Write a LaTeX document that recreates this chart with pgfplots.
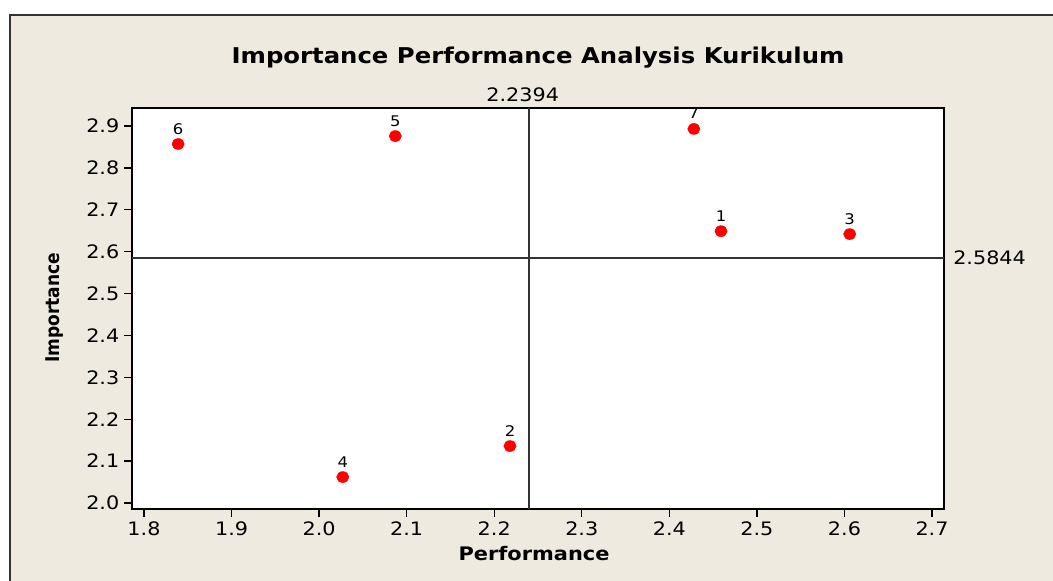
\documentclass[border=0pt]{standalone}
\usepackage{pgfplots}
\pgfplotsset{compat=1.18}
\usepackage{pgfplotstable}
\usepackage{fontspec}
\setmainfont{DejaVu Sans}[FakeStretch=1.12]
\newfontfamily\ylabfont{DejaVu Sans}[FakeStretch=0.9]
\definecolor{bgc}{RGB}{238,234,224}
\definecolor{frm}{RGB}{50,50,50}
\definecolor{dotred}{RGB}{255,0,0}

\pgfplotstableread{
x y lab
2.459 2.649 1
2.218 2.136 2
2.606 2.642 3
2.027 2.062 4
2.087 2.876 5
1.839 2.857 6
2.428 2.893 7
}\pts

\begin{document}
\begin{tikzpicture}
\useasboundingbox (0pt,0pt) rectangle (789.75pt,435.75pt);
\fill[white] (0pt,0pt) rectangle (789.75pt,435.75pt);
\fill[bgc] (7.5pt,0pt) rectangle (789.75pt,424.5pt);
\draw[frm, line width=1.3pt] (7.5pt,0pt) -- (7.5pt,424.5pt) -- (789.75pt,424.5pt);
\begin{axis}[
  at={(99pt,54pt)}, anchor=south west,
  scale only axis, width=609pt, height=300.75pt,
  xmin=1.7863, xmax=2.7137, ymin=1.9857, ymax=2.943,
  axis background/.style={fill=white},
  axis line style={line width=1.2pt, black},
  xtick={1.8,1.9,2.0,2.1,2.2,2.3,2.4,2.5,2.6,2.7},
  ytick={2.0,2.1,2.2,2.3,2.4,2.5,2.6,2.7,2.8,2.9},
  /pgf/number format/.cd, fixed, fixed zerofill, precision=1, assume math mode=true,
  /pgfplots/.cd,
  tick align=outside, tick pos=left, major tick length=6pt,
  every tick/.style={black, line width=1pt},
  tick label style={font=\fontsize{13.9}{16}\selectfont},
  clip=false,
]
\addplot[black!80, line width=1.2pt] coordinates {(2.2394,1.9857) (2.2394,2.943)};
\addplot[black!80, line width=1.2pt] coordinates {(1.7863,2.5844) (2.7137,2.5844)};
\addplot[only marks, mark=*, mark size=4.1pt,
  mark options={fill=dotred, draw=dotred, xscale=1.12},
  nodes near coords, point meta=explicit symbolic,
  nodes near coords style={anchor=base, inner sep=0pt, yshift=7.5pt,
    font=\fontsize{11}{13}\selectfont, text=black}]
  table[x=x,y=y,meta=lab]{\pts};
\node[anchor=base, inner sep=0pt, yshift=4.8pt, xshift=-4.5pt, font=\fontsize{13.9}{16}\selectfont]
  at (axis cs:2.2394,2.943) {2.2394};
\node[anchor=west, inner sep=0pt, xshift=6.75pt, font=\fontsize{13.9}{16}\selectfont]
  at (axis cs:2.7137,2.5844) {2.5844};
\end{axis}
\node[anchor=base, inner sep=0pt, font=\bfseries\fontsize{16.3}{19}\selectfont]
  at (403.5pt,387.75pt) {Importance Performance Analysis Kurikulum};
\node[anchor=base, inner sep=0pt, font=\bfseries\fontsize{14}{17}\selectfont]
  at (400.5pt,15pt) {Performance};
\node[rotate=90, inner sep=0pt, font=\ylabfont\bfseries\fontsize{14.2}{17}\selectfont]
  at (41.25pt,204.75pt) {Importance};
\end{tikzpicture}
\end{document}
